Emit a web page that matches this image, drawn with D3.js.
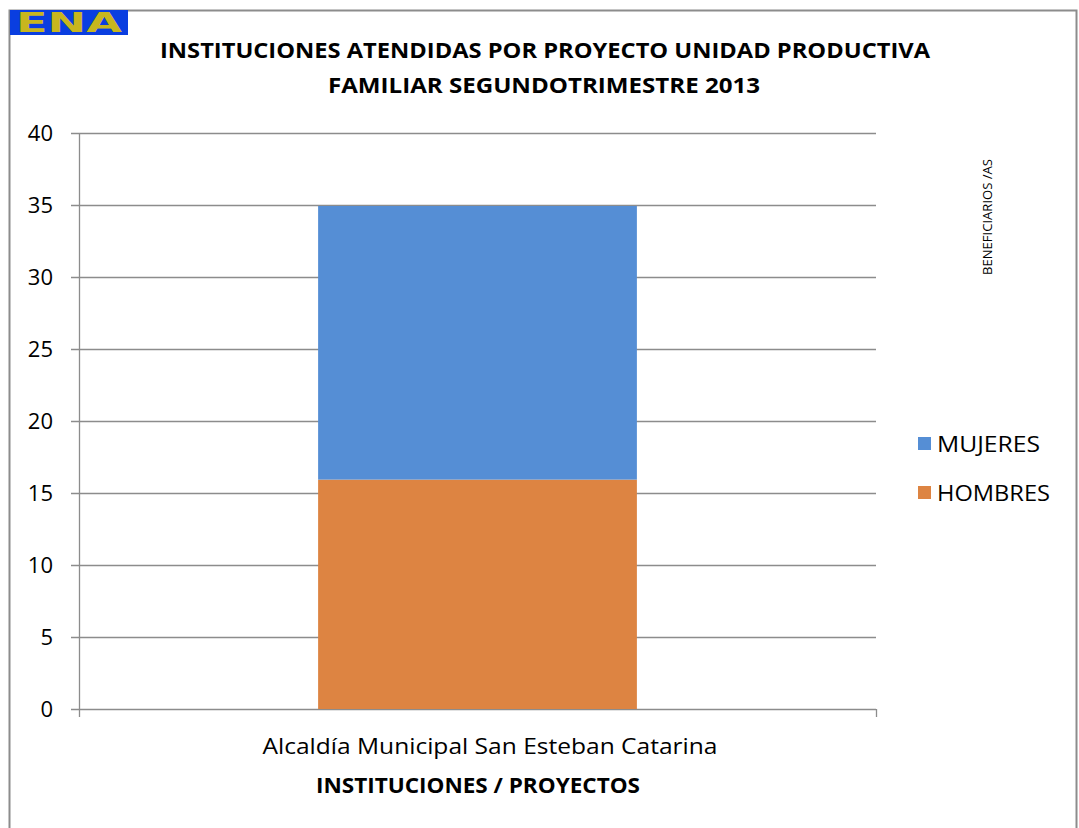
<!DOCTYPE html>
<html>
<head>
<meta charset="utf-8">
<script src="https://cdn.jsdelivr.net/npm/d3@7"></script>
<style>
  body { margin: 0; background: #fff; }
  svg { display: block; font-family: "Open Sans", "Liberation Sans", sans-serif; }
</style>
</head>
<body>
<svg id="chart" width="1079" height="828"></svg>
<script>
const categories = ['Alcaldía Municipal San Esteban Catarina'];
const seriesNames = ['HOMBRES', 'MUJERES'];
const hombres = [16];
const mujeres = [19];
const yTicks = [0, 5, 10, 15, 20, 25, 30, 35, 40];
const titleLines = ['INSTITUCIONES ATENDIDAS POR PROYECTO UNIDAD PRODUCTIVA', 'FAMILIAR SEGUNDOTRIMESTRE 2013'];
const colors = { HOMBRES: '#DD8442', MUJERES: '#558ED5' };

const svg = d3.select('#chart');
const plot = { left: 79, right: 876, top: 133, bottom: 709 };

// outer chart border
svg.append('rect')
  .attr('x', 9.5).attr('y', 10.5)
  .attr('width', 1067).attr('height', 840)
  .attr('fill', 'none').attr('stroke', '#8c8c8c').attr('stroke-width', 2);

// logo block
const logo = svg.append('g');
logo.append('rect').attr('x', 10).attr('y', 10).attr('width', 118).attr('height', 25).attr('fill', '#0a3ee0');
logo.append('text')
  .attr('x', 69).attr('y', 32)
  .attr('text-anchor', 'middle')
  .attr('fill', '#c8b61e')
  .attr('font-family', 'DejaVu Sans')
  .attr('font-weight', 'bold')
  .attr('font-size', 26)
  .attr('textLength', 106).attr('lengthAdjust', 'spacingAndGlyphs')
  .text('ENA');

// title
const titleWidths = [770, 432];
titleLines.forEach((t, i) => {
  svg.append('text')
    .attr('x', i === 0 ? 545 : 544).attr('y', 58 + i * 35)
    .attr('text-anchor', 'middle')
    .attr('font-weight', 'bold').attr('font-size', 22)
    .attr('textLength', titleWidths[i]).attr('lengthAdjust', 'spacingAndGlyphs')
    .text(t);
});

const data = categories.map((c, i) => ({ cat: c, HOMBRES: hombres[i], MUJERES: mujeres[i] }));
const stacked = d3.stack().keys(seriesNames)(data);

const x = d3.scaleBand().domain(categories).range([plot.left, plot.right]).padding(0.4286);
const y = d3.scaleLinear().domain([0, 40]).range([plot.bottom, plot.top]);

// gridlines
svg.append('g')
  .selectAll('line')
  .data(yTicks)
  .join('line')
  .attr('x1', plot.left - 8).attr('x2', plot.right)
  .attr('y1', d => Math.round(y(d)) + 0.5).attr('y2', d => Math.round(y(d)) + 0.5)
  .attr('stroke', '#8c8c8c').attr('stroke-width', 1.3);

// bars
svg.append('g')
  .selectAll('g')
  .data(stacked)
  .join('g')
  .attr('fill', d => colors[d.key])
  .selectAll('rect')
  .data(d => d)
  .join('rect')
  .attr('x', d => x(d.data.cat))
  .attr('width', x.bandwidth())
  .attr('y', d => y(d[1]) + 1)
  .attr('height', d => y(d[0]) - y(d[1]) - (d[0] === 0 ? 1 : 0));

// y axis line and x axis end tick
svg.append('line')
  .attr('x1', plot.left + 0.5).attr('x2', plot.left + 0.5)
  .attr('y1', plot.top).attr('y2', plot.bottom + 8)
  .attr('stroke', '#8c8c8c').attr('stroke-width', 1.3);
svg.append('line')
  .attr('x1', plot.right + 0.5).attr('x2', plot.right + 0.5)
  .attr('y1', plot.bottom).attr('y2', plot.bottom + 8)
  .attr('stroke', '#8c8c8c').attr('stroke-width', 1.3);

// y tick labels
svg.append('g')
  .selectAll('text')
  .data(yTicks)
  .join('text')
  .attr('x', 53).attr('y', d => y(d) + 8)
  .attr('text-anchor', 'end').attr('font-size', 22).attr('fill', '#000')
  .text(d => d);

// category label
svg.append('text')
  .attr('x', 490).attr('y', 754)
  .attr('text-anchor', 'middle').attr('font-size', 22).attr('fill', '#000')
  .attr('textLength', 455).attr('lengthAdjust', 'spacingAndGlyphs')
  .text(categories[0]);

// x axis title
svg.append('text')
  .attr('x', 478).attr('y', 793)
  .attr('text-anchor', 'middle').attr('font-weight', 'bold').attr('font-size', 21)
  .attr('textLength', 324).attr('lengthAdjust', 'spacingAndGlyphs')
  .text('INSTITUCIONES / PROYECTOS');

// rotated side label
svg.append('text')
  .attr('transform', 'translate(992,217) rotate(-90)')
  .attr('text-anchor', 'middle').attr('font-size', 13).attr('fill', '#000')
  .attr('textLength', 116).attr('lengthAdjust', 'spacingAndGlyphs')
  .text('BENEFICIARIOS /AS');

// legend
const legendItems = ['MUJERES', 'HOMBRES'];
const legendWidths = [103, 113];
const legend = svg.append('g')
  .selectAll('g')
  .data(legendItems)
  .join('g')
  .attr('transform', (d, i) => `translate(918, ${437 + i * 49})`);
legend.append('rect').attr('width', 13).attr('height', 13).attr('fill', d => colors[d]);
legend.append('text')
  .attr('x', 19).attr('y', 15)
  .attr('font-size', 22).attr('fill', '#000')
  .attr('textLength', (d, i) => legendWidths[i]).attr('lengthAdjust', 'spacingAndGlyphs')
  .text(d => d);
</script>
</body>
</html>
